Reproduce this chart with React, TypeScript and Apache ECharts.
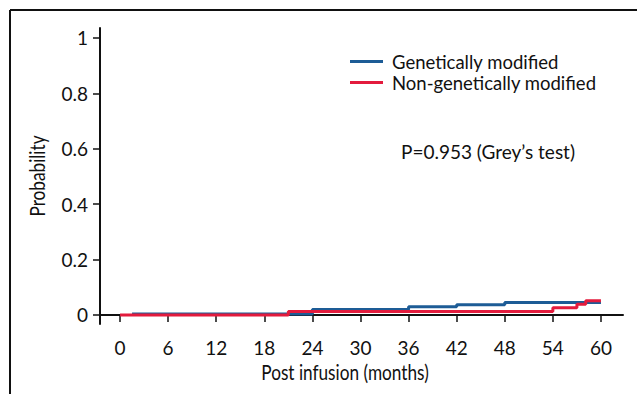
import React, { useEffect, useRef } from "react";
import * as echarts from "echarts";

const xTicks = [0, 6, 12, 18, 24, 30, 36, 42, 48, 54, 60];
const yTicks = [0, 0.2, 0.4, 0.6, 0.8, 1];

const gmMonths = [1.5, 24, 36, 42, 48, 60];
const gmProb = [0.004, 0.02, 0.03, 0.037, 0.045, 0.045];

const ngmMonths = [0, 21, 54, 57, 58.1, 60];
const ngmProb = [0, 0.013, 0.026, 0.039, 0.051, 0.051];

const seriesNames = ["Genetically modified", "Non-genetically modified"];
const seriesColors = ["#1d5c96", "#e31b3d"];
const pText = "P=0.953 (Grey\u2019s test)";
const xName = "Post infusion (months)";
const yName = "Probability";

const FONT = "Lato, 'Open Sans', sans-serif";

export default function App() {
  const ref = useRef<HTMLDivElement>(null);
  useEffect(() => {
    if (!ref.current) return;
    const chart = echarts.init(ref.current, undefined, { renderer: "svg" });
    const gm = gmMonths.map((m, i) => [m, gmProb[i]]);
    const ngm = ngmMonths.map((m, i) => [m, ngmProb[i]]);
    chart.setOption({
      animation: false,
      backgroundColor: "#ffffff",
      grid: { left: 100, top: 28, width: 523, height: 296, containLabel: false },
      legend: {
        orient: "vertical",
        left: 350,
        top: 52,
        padding: 0,
        itemWidth: 33,
        itemHeight: 3,
        itemGap: 2,
        icon: "rect",
        data: seriesNames,
        textStyle: { fontFamily: FONT, fontSize: 18.5, color: "#111", lineHeight: 18, padding: [0, 0, 0, 4] },
      },
      xAxis: {
        type: "value",
        min: -2.5,
        max: 62.75,
        splitLine: { show: false },
        axisLine: { lineStyle: { color: "#111", width: 2 } },
        axisTick: { customValues: xTicks, length: 7, lineStyle: { color: "#111", width: 1.5 } },
        axisLabel: { customValues: xTicks, margin: 14, fontFamily: FONT, fontSize: 19, color: "#111" },
      },
      yAxis: {
        type: "value",
        min: -0.0325,
        max: 1.036,
        splitLine: { show: false },
        axisLine: { onZero: false, lineStyle: { color: "#111", width: 2 } },
        axisTick: { customValues: yTicks, length: 7, lineStyle: { color: "#111", width: 1.5 } },
        axisLabel: { customValues: yTicks, margin: 12, fontFamily: FONT, fontSize: 19, color: "#111" },
      },
      graphic: [
        { type: "line", shape: { x1: 10, y1: 10, x2: 637, y2: 10 }, style: { stroke: "#111", lineWidth: 2 } },
        { type: "line", shape: { x1: 10, y1: 10, x2: 10, y2: 394 }, style: { stroke: "#111", lineWidth: 2 } },
        {
          type: "text",
          x: 401,
          y: 151,
          style: { text: pText, fontFamily: FONT, fontSize: 19, fill: "#111", verticalAlign: "middle", align: "left" },
        },
        {
          type: "text",
          x: 345,
          y: 372,
          scaleX: 0.82,
          style: { text: xName, fontFamily: FONT, fontSize: 21, fill: "#111", verticalAlign: "middle", align: "center" },
        },
        {
          type: "text",
          x: 37,
          y: 176,
          rotation: Math.PI / 2,
          scaleX: 0.82,
          style: { text: yName, fontFamily: FONT, fontSize: 21, fill: "#111", verticalAlign: "middle", align: "center" },
        },
      ],
      series: [
        {
          name: seriesNames[0],
          type: "line",
          step: "end",
          data: gm,
          symbol: "none",
          lineStyle: { color: seriesColors[0], width: 3 },
          itemStyle: { color: seriesColors[0] },
        },
        {
          name: seriesNames[1],
          type: "line",
          step: "end",
          data: ngm,
          symbol: "none",
          lineStyle: { color: seriesColors[1], width: 3 },
          itemStyle: { color: seriesColors[1] },
        },
      ],
    });
    return () => chart.dispose();
  }, []);
  return <div ref={ref} style={{ position: "absolute", left: 0, top: 0, width: 637, height: 394 }} />;
}
